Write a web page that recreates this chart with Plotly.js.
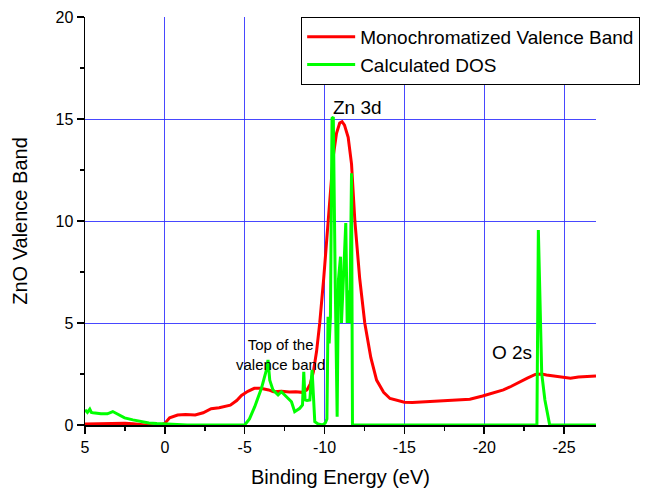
<!DOCTYPE html>
<html><head><meta charset="utf-8">
<script src="https://cdn.plot.ly/plotly-3.0.1.min.js"></script>
<style>html,body{margin:0;padding:0;background:#fff}#chart{width:649px;height:488px}</style>
</head><body><div id="chart"></div>
<script>
// Monochromatized Valence Band (red)
const vbX = [5, 4, 3, 2.5, 2, 1.5, 1, 0.6, 0.3, 0, -0.3, -0.8, -1.3, -1.9, -2.4, -2.9, -3.4, -3.75, -4.1, -4.5, -4.8, -5.2, -5.6, -6.0, -6.5, -6.8, -7.3, -7.8, -8.2, -8.6, -8.9, -9.1, -9.3, -9.5, -9.7, -9.95, -10.15, -10.35, -10.55, -10.75, -10.95, -11.1, -11.25, -11.48, -11.69, -11.9, -12.2, -12.52, -12.9, -13.26, -13.7, -14.1, -14.6, -15, -15.5, -16, -16.5, -17, -17.5, -18, -18.5, -19.1, -19.9, -20.5, -21.2, -21.7, -22.2, -22.7, -23.2, -23.6, -23.9, -24.4, -24.9, -25.4, -25.9, -26.4, -26.8, -27];
const vbY = [0.05, 0.07, 0.08, 0.08, 0.06, 0.03, -0.02, -0.05, -0.02, 0.08, 0.35, 0.49, 0.52, 0.49, 0.6, 0.8, 0.85, 0.9, 0.97, 1.2, 1.45, 1.65, 1.8, 1.8, 1.72, 1.63, 1.66, 1.62, 1.63, 1.6, 1.72, 2.0, 2.6, 3.6, 5.0, 7.2, 9.2, 11.4, 13.2, 14.3, 14.8, 14.87, 14.7, 14.1, 12.8, 10.0, 7.2, 5.0, 3.3, 2.2, 1.6, 1.3, 1.18, 1.12, 1.1, 1.12, 1.15, 1.17, 1.2, 1.22, 1.25, 1.26, 1.42, 1.55, 1.72, 1.9, 2.12, 2.3, 2.48, 2.5, 2.45, 2.4, 2.35, 2.29, 2.35, 2.36, 2.4, 2.4];

// Calculated DOS (green)
const dosX = [5, 4.85, 4.7, 4.6, 4.5, 4.3, 4.0, 3.6, 3.4, 3.26, 3.0, 2.52, 2.0, 1.48, 1.0, 0.5, 0, -0.7, -1.4, -3, -4.6, -5.0, -5.3, -5.63, -6.05, -6.36, -6.46, -6.57, -6.77, -7.09, -7.3, -7.6, -7.93, -8.13, -8.45, -8.62, -8.7, -8.78, -8.9, -9.08, -9.22, -9.39, -9.6, -9.9, -10.05, -10.15, -10.22, -10.29, -10.37, -10.47, -10.55, -10.67, -10.79, -10.87, -11.0, -11.06, -11.17, -11.25, -11.33, -11.42, -11.5, -11.58, -11.69, -11.75, -13, -16, -20, -23.3, -23.39, -23.5, -23.6, -23.8, -24.0, -24.1, -25, -27];
const dosY = [0.74, 0.62, 0.78, 0.62, 0.6, 0.58, 0.55, 0.55, 0.62, 0.66, 0.55, 0.35, 0.25, 0.16, 0.1, 0.07, 0.05, 0.02, 0, 0, 0, 0, 0.3, 0.9, 1.8, 2.7, 3.19, 2.2, 1.72, 1.47, 1.63, 1.39, 1.14, 0.65, 0.82, 0.98, 2.61, 1.23, 1.2, 1.23, 2.7, 0.16, 0.05, 0, 0.1, 0.3, 5.31, 4.0, 5.31, 15.03, 15.1, 6.95, 0.4, 7.1, 8.25, 5.0, 6.6, 8.4, 9.9, 5.0, 6.6, 5.0, 12.34, 0, 0, 0, 0, 0, 9.56, 6.45, 2.53, 1.23, 0.41, 0, 0, 0];

const seriesNames = ['Monochromatized Valence Band', 'Calculated DOS'];
const xTickVals = [5, 0, -5, -10, -15, -20, -25];
const xTickText = ['5', '0', '-5', '-10', '-15', '-20', '-25'];
const yTickVals = [0, 5, 10, 15, 20];

const traces = [
  {x: vbX, y: vbY, name: seriesNames[0], mode: 'lines', line: {color: '#ff0000', width: 3}},
  {x: dosX, y: dosY, name: seriesNames[1], mode: 'lines', line: {color: '#00ff00', width: 3}}
];

const FF = 'Arial, Liberation Sans, sans-serif';
const axFont = {family: FF, size: 16, color: '#000'};
const layout = {
  width: 649, height: 488,
  margin: {l: 85, r: 53, t: 17, b: 63, autoexpand: false},
  paper_bgcolor: '#fff', plot_bgcolor: '#fff',
  showlegend: true,
  legend: {x: 0.423, y: 1.0, xanchor: 'left', yanchor: 'top', bgcolor: '#fff',
    bordercolor: '#000', borderwidth: 1,
    font: {family: FF, size: 19, color: '#000'},
    tracegroupgap: 0, itemwidth: 48},
  xaxis: {range: [5, -27], autorange: false, tickvals: xTickVals, ticktext: xTickText,
    ticks: 'outside', ticklen: 7, tickwidth: 1.5, tickcolor: '#000',
    showline: true, linecolor: '#000', linewidth: 1.5,
    showgrid: true, gridcolor: 'rgba(40,40,255,0.85)', gridwidth: 1,
    zeroline: false, automargin: false,
    minor: {dtick: 2.5, ticks: 'outside', ticklen: 4, tickcolor: '#000', showgrid: false},
    tickfont: axFont,
    title: {text: 'Binding Energy (eV)', font: {family: FF, size: 20, color: '#000'}, standoff: 16}},
  yaxis: {range: [0, 20], autorange: false, tickvals: yTickVals,
    ticks: 'outside', ticklen: 7, tickwidth: 1.5, tickcolor: '#000',
    showline: true, linecolor: '#000', linewidth: 1.5,
    showgrid: true, gridcolor: 'rgba(40,40,255,0.85)', gridwidth: 1,
    zeroline: false, automargin: false,
    minor: {dtick: 2.5, ticks: 'outside', ticklen: 4, tickcolor: '#000', showgrid: false},
    tickfont: axFont,
    title: {text: 'ZnO Valence Band', font: {family: FF, size: 20, color: '#000'}, standoff: 22}},
  annotations: [
    {x: -12.08, y: 15.54, text: 'Zn 3d', showarrow: false, font: {family: FF, size: 19, color: '#000'}},
    {x: -7.26, y: 3.48, text: 'Top of the<br>valence band', showarrow: false, font: {family: FF, size: 15, color: '#000'}},
    {x: -21.74, y: 3.53, text: 'O 2s', showarrow: false, font: {family: FF, size: 19, color: '#000'}}
  ]
};
Plotly.newPlot('chart', traces, layout, {displayModeBar: false, staticPlot: true});
</script>
</body></html>
